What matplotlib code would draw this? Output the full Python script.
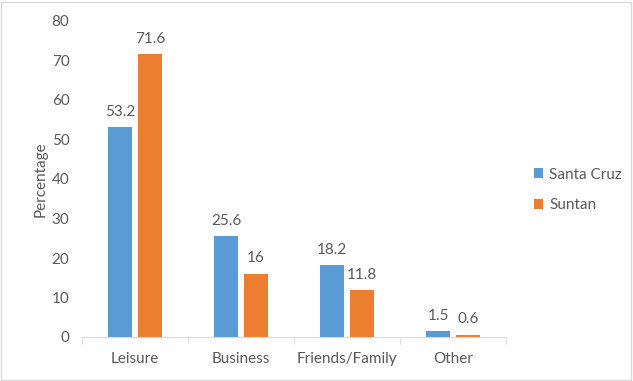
import numpy as np
import matplotlib.pyplot as plt
from matplotlib.patches import Rectangle

# data
categories = ["Leisure", "Business", "Friends/Family", "Other"]
santa_cruz = [53.2, 25.6, 18.2, 1.5]
suntan = [71.6, 16, 11.8, 0.6]
santa_labels = ["53.2", "25.6", "18.2", "1.5"]
suntan_labels = ["71.6", "16", "11.8", "0.6"]

plt.rcParams['font.family'] = ['Lato', 'DejaVu Sans']
grey = '#595959'
blue = '#5B9BD5'
orange = '#ED7D31'
fs = 11

fig = plt.figure(figsize=(6.33, 3.81), dpi=100)
ax = fig.add_axes([82 / 633, 44 / 381, 424 / 633, 316 / 381])

x = np.arange(len(categories))
w = 0.226
off = (w + 0.057) / 2
b1 = ax.bar(x - off, santa_cruz, w, color=blue, label="Santa Cruz")
b2 = ax.bar(x + off, suntan, w, color=orange, label="Suntan")

for bars, labs in ((b1, santa_labels), (b2, suntan_labels)):
    for r, t in zip(bars, labs):
        ax.annotate(t, (r.get_x() + r.get_width() / 2, r.get_height()),
                    xytext=(0, 6), textcoords='offset points',
                    ha='center', va='bottom', fontsize=fs, color=grey)

ax.set_xlim(-0.5, len(categories) - 0.5)
ax.set_ylim(0, 80)
ax.set_yticks(range(0, 81, 10))
ax.set_xticks(x)
ax.set_xticklabels(categories)
ax.set_xticks(np.arange(-0.5, len(categories)), minor=True)
ax.tick_params(axis='x', which='major', length=0, pad=11, labelsize=fs, labelcolor=grey)
ax.tick_params(axis='x', which='minor', length=5, color='#D9D9D9', direction='out')
ax.tick_params(axis='y', length=0, pad=9, labelsize=fs, labelcolor=grey)
for s in ['top', 'right', 'left']:
    ax.spines[s].set_visible(False)
ax.spines['bottom'].set_color('#D9D9D9')
ax.set_ylabel("Percentage", fontsize=fs, color=grey, labelpad=3)

fig.legend(handles=[b1, b2], loc='center left', bbox_to_anchor=(520 / 633, 1 - 190 / 381),
           frameon=False, fontsize=fs, labelcolor=grey, handlelength=0.6, handleheight=0.6,
           handletextpad=0.4, labelspacing=1.1)

fig.patches.append(Rectangle((0.002, 0.003), 0.995, 0.993, transform=fig.transFigure,
                             fill=False, edgecolor='#D9D9D9', linewidth=1))

fig.savefig("out.png", dpi=100)
